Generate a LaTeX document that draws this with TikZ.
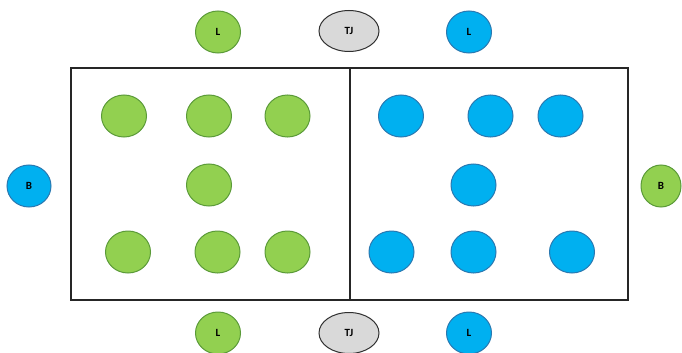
\documentclass[tikz,border=0pt]{standalone}
\usepackage{fontspec}
\setmainfont{Carlito}
\usetikzlibrary{shapes.geometric}
\definecolor{gfill}{HTML}{92D050}
\definecolor{gline}{HTML}{5A9A38}
\definecolor{bfill}{HTML}{00B0F0}
\definecolor{bline}{HTML}{2A78B0}
\definecolor{tfill}{HTML}{D9D9D9}
\definecolor{tline}{HTML}{303030}
\tikzset{
  px/.style={x=1pt,y=-1pt},
  dot/.style={ellipse,minimum width=45pt,minimum height=42pt,inner sep=0pt,line width=1pt,font=\fontsize{11}{13}\selectfont\bfseries},
  gdot/.style={dot,fill=gfill,draw=gline},
  bdot/.style={dot,fill=bfill,draw=bline},
  tjdot/.style={dot,fill=tfill,draw=tline,minimum width=60pt,minimum height=41pt},
  court/.style={draw=black!85,line width=1.2pt}
}
\begin{document}
\begin{tikzpicture}[px]
\useasboundingbox (0,0) rectangle (682,353);
% court
\coordinate (c1) at (71,68);
\coordinate (c2) at (628,300);
\coordinate (m1) at (350,68);
\coordinate (m2) at (350,300);
\draw[court] (c1) rectangle (c2);
\draw[court] (m1) -- (m2);
% outside markers
\node[gdot] (tl) at (218,32) {L};
\node[tjdot] (ttj) at (349,31) {TJ};
\node[bdot] (tr) at (469,32) {L};
\node[gdot] (bl) at (218,333) {L};
\node[tjdot] (btj) at (349,333) {TJ};
\node[bdot] (br) at (469,333) {L};
\node[bdot,minimum width=44pt] (lb) at (29,186) {B};
\node[gdot,minimum width=40pt] (rb) at (661,186) {B};
% green team
\node[gdot] (g1) at (124,116) {};
\node[gdot] (g2) at (209,116) {};
\node[gdot] (g3) at (287.5,116) {};
\node[gdot] (g4) at (209,185) {};
\node[gdot] (g5) at (128,252) {};
\node[gdot] (g6) at (217.5,252) {};
\node[gdot] (g7) at (287.5,252) {};
% blue team
\node[bdot] (b1) at (401,116) {};
\node[bdot] (b2) at (490.5,116) {};
\node[bdot] (b3) at (560.5,116) {};
\node[bdot] (b4) at (473.5,185) {};
\node[bdot] (b5) at (391.5,252) {};
\node[bdot] (b6) at (473.5,252) {};
\node[bdot] (b7) at (572,252) {};
\end{tikzpicture}
\end{document}
